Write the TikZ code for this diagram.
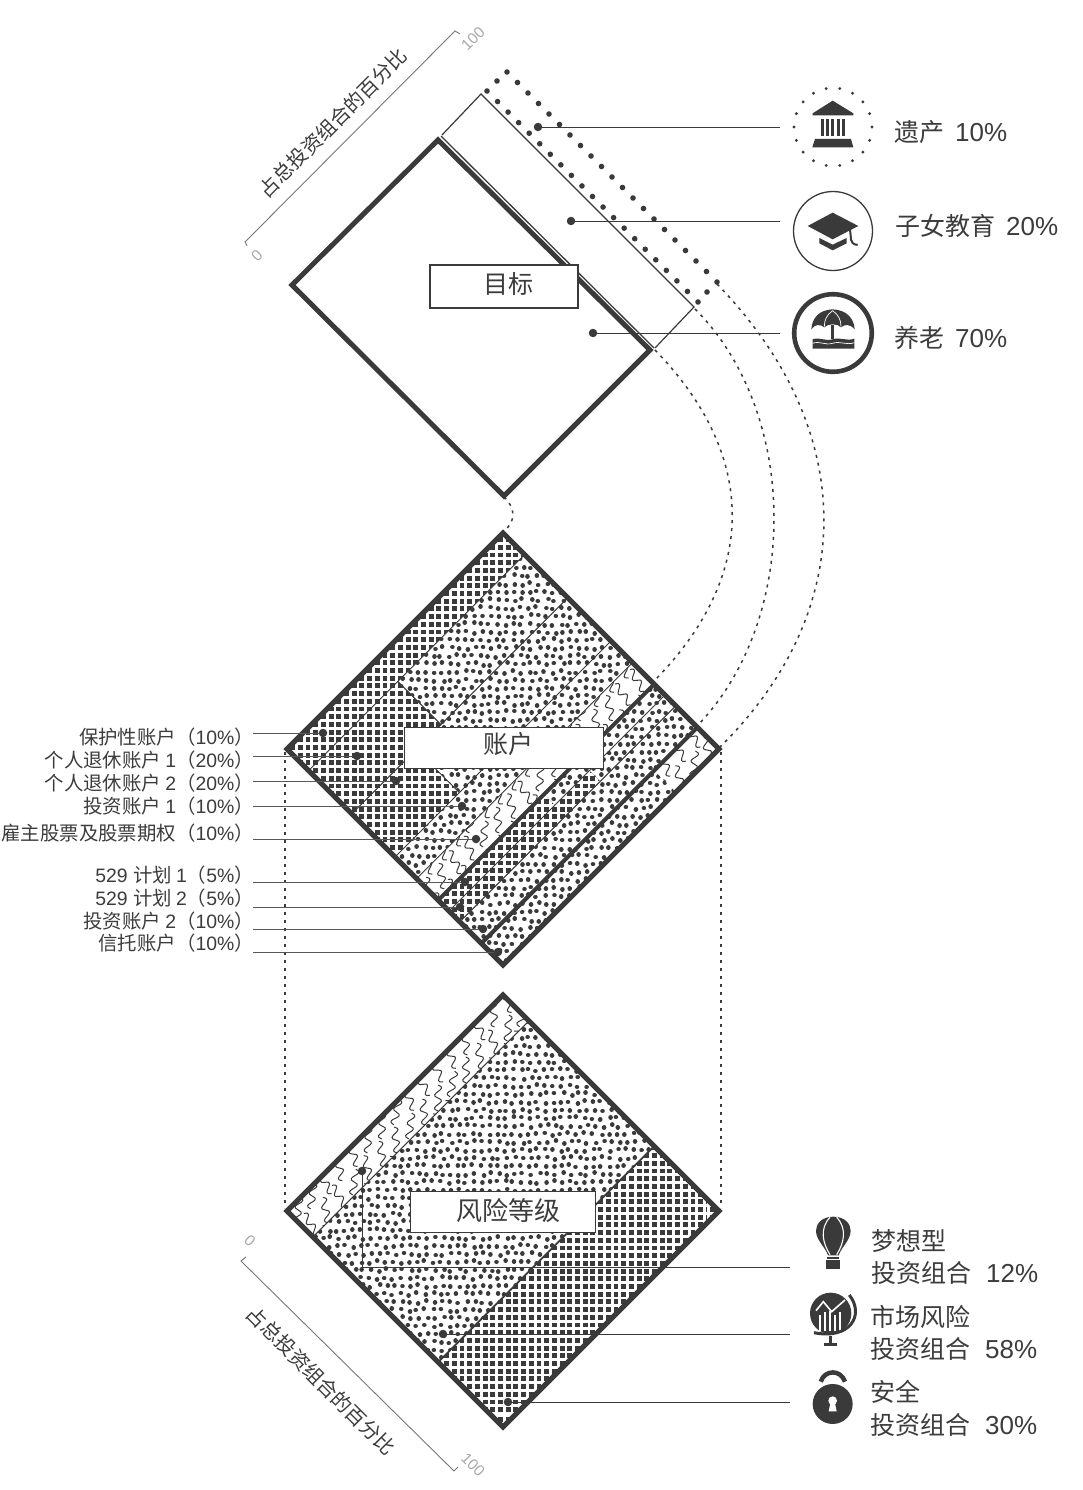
\documentclass[tikz,border=0pt]{standalone}
\usepackage{fontspec}
\setmainfont{Liberation Sans}
\newfontfamily\cjk{Noto Sans CJK SC}
\newcommand{\cj}[1]{{\cjk #1}}
\definecolor{ink}{HTML}{3A3A3A}
\definecolor{txt}{HTML}{3C3C3C}
\definecolor{scalegray}{HTML}{777777}
\definecolor{numgray}{HTML}{A8A8A8}
\pgfmathsetseed{7}
% pattern fillers (absolute px coordinates)
\newcommand{\crossfill}[4]{%
  \fill[ink] (#1,#2) rectangle (#3,#4);
  \foreach \gx in {#1,\the\numexpr#1+8\relax,...,#3}{\draw[white,line width=2.8pt] ({(\gx-#1)*.9625+#1},#2) -- ({(\gx-#1)*.9625+#1},#4);}
  \foreach \gy in {#2,\the\numexpr#2+8\relax,...,#4}{\draw[white,line width=2.8pt] (#1,{(\gy-#2)*.9625+#2}) -- (#3,{(\gy-#2)*.9625+#2});}
  \foreach \gx in {#3,\the\numexpr#3+8\relax,...,\the\numexpr#3+24\relax}{\draw[white,line width=2.8pt] ({(\gx-#1)*.9625+#1},#2) -- ({(\gx-#1)*.9625+#1},#4);}
  \foreach \gy in {#4,\the\numexpr#4+8\relax,...,\the\numexpr#4+24\relax}{\draw[white,line width=2.8pt] (#1,{(\gy-#2)*.9625+#2}) -- (#3,{(\gy-#2)*.9625+#2});}
}
\newcommand{\dotsfill}[4]{%
  \foreach \dx in {#1,\the\numexpr#1+8\relax,...,#3}{%
    \draw[ink,line cap=round,line width=4.6pt]
    \foreach \dy in {#2,\the\numexpr#2+8\relax,...,#4}{%
      ({\dx+mod(\dy-#2,16)*0.25+rand*1.6},{\dy+rand*1.6}) -- ++(.02,0)
    };
  }%
}
\newcommand{\wavyfill}[4]{%
  \foreach \wx in {#1,\the\numexpr#1+14\relax,...,#3}{%
    \foreach \wy in {#2,\the\numexpr#2+28\relax,...,#4}{%
      \pgfmathsetmacro{\wr}{12+rand*25}
      \pgfmathsetmacro{\wo}{mod((\wx-#1)/14,2)*14}
      \draw[ink,line width=1pt,shift={(\wx,\wy+\wo)},rotate=\wr]
        (0,-15) .. controls (12,-11) and (-12,-6) .. (0,-2)
        .. controls (12,2) and (-12,7) .. (0,11);
    }}%
}
\tikzset{
  x=1pt,y=-1pt,
  acct/.style={shift={(287,749)},x={(216pt,-216pt)},y={(216pt,216pt)}},
  risk/.style={shift={(287,1211)},x={(216pt,-216pt)},y={(216pt,216pt)}},
  heavy/.style={draw=ink,line width=5pt,line join=miter},
  divider/.style={draw=ink,line width=4pt},
  thinline/.style={draw=ink,line width=1pt},
  leader/.style={draw=ink,line width=.9pt},
  pin/.style={fill=ink,circle,inner sep=0pt,minimum size=8.5pt},
  dotted curve/.style={draw=ink,line width=1.5pt,dash pattern=on 3pt off 5pt},
  labelbox/.style={draw=ink,fill=white,line width=1.8pt,inner sep=0pt,text=txt,font=\cjk\fontsize{25}{25}\selectfont},
  leftlabel/.style={anchor=east,text=txt,inner sep=0pt,font=\fontsize{19.4}{19.4}\selectfont},
  rightlabel/.style={anchor=west,text=txt,inner sep=0pt,font=\fontsize{25}{25}\selectfont},
  scalelabel/.style={text=txt,inner sep=0pt,font=\cjk\fontsize{20}{20}\selectfont},
  numlabel/.style={text=numgray,inner sep=0pt,font=\fontsize{15.5}{15.5}\selectfont},
  scalebar/.style={draw=scalegray,line width=.9pt},
}
\newcommand{\nm}[1]{\hspace{11pt}{\fontsize{26}{26}\selectfont #1}}
\newcommand{\nb}[1]{\hspace{15pt}{\fontsize{26}{26}\selectfont #1}}
\begin{document}
\begin{tikzpicture}
\useasboundingbox (0,0) rectangle (1082,1490);
\fill[white] (0,0) rectangle (1082,1490);

% ---------- dotted connectors
\coordinate (goalB) at (504,497); \coordinate (acctT) at (503,532);
\draw[dotted curve] (goalB) .. controls (516,508) and (516,522) .. (acctT);
\coordinate (c1a) at (655,350); \coordinate (c1b) at (655,680);
\draw[dotted curve] (c1a) .. controls (758,456) and (758,575) .. (c1b);
\coordinate (c2a) at (695,309); \coordinate (c2b) at (697,726);
\draw[dotted curve] (c2a) .. controls (800,414) and (800,620) .. (c2b);
\coordinate (c3a) at (717,284); \coordinate (c3b) at (720,747);
\draw[dotted curve] (c3a) .. controls (859,430) and (859,610) .. (c3b);
\coordinate (vl1) at (285,752); \coordinate (vl2) at (285,1208);
\draw[dotted curve,line width=1.2pt] (vl1) -- (vl2);
\coordinate (vr1) at (721,752); \coordinate (vr2) at (721,1208);
\draw[dotted curve,line width=1.2pt] (vr1) -- (vr2);

% ---------- goal diamond
\draw[heavy,fill=white] (438,140) -- (292,285) -- (504,496) -- (650,350) -- cycle;
\coordinate (d1) at (441,136); \coordinate (d2) at (654,348);
\draw[thinline,line width=1.3pt] (d1) -- (d2);
\draw[draw=ink,line width=1.2pt] (442,135) -- (481,94) -- (694,307) -- (655,348);
% dotted frame
\foreach \k in {0,...,20}{
  \fill[ink] ({507+\k*10.5},{72+\k*10.5}) circle[radius=2.8pt];
  \fill[ink] ({487+\k*10.55},{91+\k*10.55}) circle[radius=2.8pt];
}
\fill[ink] (497,81) circle[radius=2.8pt];
\fill[ink] (707,292) circle[radius=2.8pt];
\node[labelbox,minimum width=148pt,minimum height=43pt,anchor=north west] (goalbox) at (429,264) {\raisebox{6pt}{\hspace*{10pt}目标}};

% goal leaders
\node[pin] (g1) at (538,127) {}; \coordinate (g1e) at (780,127); \draw[leader] (g1) -- (g1e);
\node[pin] (g2) at (571,221) {}; \coordinate (g2e) at (780,221); \draw[leader] (g2) -- (g2e);
\node[pin] (g3) at (593,333) {}; \coordinate (g3e) at (780,333); \draw[leader] (g3) -- (g3e);

% ---------- accounts diamond
\begin{scope}
 \clip[acct] (0,0) -- (1,0) -- (1,1) -- (0,1) -- cycle;
 \fill[white] (280,525) rectangle (725,970);
 \begin{scope}
  \clip[acct] (0,0) -- (.1,0) -- (.1,1) -- (0,1) -- cycle
       (.1,0) -- (.3,0) -- (.3,.413) -- (.1,.413) -- cycle
       (.3,0) -- (.5,0) -- (.5,.298) -- (.3,.298) -- cycle
       (.7,0) -- (.75,0) -- (.75,.49) -- (.7,.49) -- cycle
       (.75,0) -- (.8,0) -- (.8,.65) -- (.75,.65) -- cycle;
  \crossfill{281}{528}{725}{968}
 \end{scope}
 \begin{scope}
  \clip[acct] (.1,.413) -- (.3,.413) -- (.3,1) -- (.1,1) -- cycle
       (.3,.298) -- (.5,.298) -- (.5,1) -- (.3,1) -- cycle
       (.5,0) -- (.6,0) -- (.6,1) -- (.5,1) -- cycle
       (.7,.49) -- (.75,.49) -- (.75,1) -- (.7,1) -- cycle
       (.75,.65) -- (.8,.65) -- (.8,1) -- (.75,1) -- cycle
       (.8,0) -- (.9,0) -- (.9,1) -- (.8,1) -- cycle
       (.9,0) -- (1,0) -- (1,.8) -- (.9,.8) -- cycle;
  \dotsfill{281}{528}{725}{968}
 \end{scope}
 \begin{scope}
  \clip[acct] (.6,0) -- (.7,0) -- (.7,1) -- (.6,1) -- cycle
       (.9,.8) -- (1,.8) -- (1,1) -- (.9,1) -- cycle;
  \wavyfill{400}{640}{725}{968}
 \end{scope}
 \foreach \t in {.1,.3,.5,.6,.75,.8}{\draw[thinline,acct] (\t,0) -- (\t,1);}
 \draw[thinline,acct] (.1,.413) -- (.3,.413);
 \draw[thinline,acct] (.3,.298) -- (.5,.298);
\end{scope}
\draw[divider,acct] (.7,0) -- (.7,1);
\draw[divider,acct] (.9,0) -- (.9,1);
\draw[heavy,line width=5pt,acct] (0,0) -- (1,0) -- (1,1) -- (0,1) -- cycle;
\node[labelbox,minimum width=199pt,minimum height=41pt,anchor=north west,line width=1.2pt] (acctbox) at (404,727) {\raisebox{11pt}{\hspace*{8pt}账户}};

% left labels + leaders
\foreach \nmk/\ly/\lx/\ty/\txtv in {
  a1/733/323/737/{\cj{保护性账户（}10\%\cj{）}},
  a2/756/357/760/{\cj{个人退休账户 }1\cj{（}20\%\cj{）}},
  a3/781/396/783/{\cj{个人退休账户 }2\cj{（}20\%\cj{）}},
  a4/806/462/806/{\cj{投资账户 }1\cj{（}10\%\cj{）}},
  a5/839/476/833/{\cj{雇主股票及股票期权（}10\%\cj{）}},
  a6/882/465/875/{529 \cj{计划 }1\cj{（}5\%\cj{）}},
  a7/907/460/898/{529 \cj{计划 }2\cj{（}5\%\cj{）}},
  a8/929/483/921/{\cj{投资账户 }2\cj{（}10\%\cj{）}},
  a9/952/498/943/{\cj{信托账户（}10\%\cj{）}}}{
  \node[leftlabel] (t\nmk) at (254,\ty) {\txtv};
  \node[pin] (p\nmk) at (\lx,\ly) {};
  \coordinate (s\nmk) at (253,\ly);
  \draw[leader,draw=ink!85] (s\nmk) -- (p\nmk);
}

% ---------- risk diamond
\begin{scope}
 \clip[risk] (0,0) -- (1,0) -- (1,1) -- (0,1) -- cycle;
 \fill[white] (280,990) rectangle (725,1432);
 \begin{scope}
  \clip[risk] (0,0) -- (.12,0) -- (.12,1) -- (0,1) -- cycle;
  \wavyfill{270}{960}{540}{1240}
 \end{scope}
 \begin{scope}
  \clip[risk] (.12,0) -- (.7,0) -- (.7,1) -- (.12,1) -- cycle;
  \dotsfill{281}{990}{725}{1432}
 \end{scope}
 \begin{scope}
  \clip[risk] (.7,0) -- (1,0) -- (1,1) -- (.7,1) -- cycle;
  \crossfill{281}{990}{725}{1432}
 \end{scope}
 \draw[thinline,risk] (.12,0) -- (.12,1);
 \draw[thinline,line width=1.8pt,risk] (.7,0) -- (.7,1);
\end{scope}
\draw[heavy,risk] (0,0) -- (1,0) -- (1,1) -- (0,1) -- cycle;
\node[labelbox,minimum width=185pt,minimum height=41pt,anchor=north west,line width=1.2pt,font=\cjk\fontsize{26}{26}\selectfont] (riskbox) at (410,1191) {\raisebox{6pt}{\hspace*{10pt}风险等级}};

\node[pin] (r1) at (362,1171) {}; \coordinate (r1c) at (362,1267); \coordinate (r1e) at (790,1267);
\draw[leader] (r1) -- (r1c) -- (r1e);
\node[pin] (r2) at (443,1334) {}; \coordinate (r2e) at (790,1334); \draw[leader] (r2) -- (r2e);
\node[pin] (r3) at (508,1402) {}; \coordinate (r3e) at (790,1402); \draw[leader] (r3) -- (r3e);

% ---------- scale bars
\coordinate (sa1) at (247,246); \coordinate (sa2) at (245,242); \coordinate (sa3) at (455,31); \coordinate (sa4) at (460,34);
\draw[scalebar] (sa1) -- (sa2) -- (sa3) -- (sa4);
\node[scalelabel,rotate=45] (st1) at (333,123) {占总投资组合的百分比};
\node[numlabel,rotate=45] (st1a) at (257,256) {0};
\node[numlabel,rotate=45] (st1b) at (473,39) {100};

\coordinate (sb1) at (246,1257); \coordinate (sb2) at (241,1261); \coordinate (sb3) at (454,1471); \coordinate (sb4) at (458,1467);
\draw[scalebar] (sb1) -- (sb2) -- (sb3) -- (sb4);
\node[scalelabel,rotate=-45] (st2) at (321,1381) {占总投资组合的百分比};
\node[numlabel,rotate=-45] (st2a) at (250,1241) {0};
\node[numlabel,rotate=-45] (st2b) at (473,1465) {100};

% ---------- right labels
\node[rightlabel] (l1) at (894,132) {\cj{遗产}\nm{10\%}};
\node[rightlabel] (l2) at (895,226) {\cj{子女教育}\nm{20\%}};
\node[rightlabel] (l3) at (894,338) {\cj{养老}\nm{70\%}};
\node[rightlabel] (l4) at (871,1241) {\cj{梦想型}};
\node[rightlabel] (l5) at (871,1273) {\cj{投资组合}\nb{12\%}};
\node[rightlabel] (l6) at (870,1317) {\cj{市场风险}};
\node[rightlabel] (l7) at (870,1349) {\cj{投资组合}\nb{58\%}};
\node[rightlabel] (l8) at (870,1392) {\cj{安全}};
\node[rightlabel] (l9) at (870,1425) {\cj{投资组合}\nb{30\%}};

% ---------- icons: bank
\foreach \a in {0,20,...,340}{\fill[ink] ({833+39*cos(\a)},{127+39*sin(\a)}) circle[radius=1.6pt];}
\begin{scope}[shift={(770,70)},x=.3333pt,y=-.3333pt]
 \fill[ink] (188,92) -- (250,130) -- (250,136) -- (128,136) -- (128,130) -- cycle;
 \foreach \b in {152,168,184,200,216}{\fill[ink] (\b,146) rectangle (\b+9,198);}
 \fill[ink] (135,207) -- (243,207) -- (250,232) -- (127,232) -- cycle;
\end{scope}
% graduation cap
\draw[ink,line width=1.3pt] (833,231) circle[radius=39.5pt];
\begin{scope}[shift={(770,70)},x=.3333pt,y=-.3333pt]
 \fill[ink] (113,468) -- (188,428) -- (265,468) -- (188,508) -- cycle;
 \fill[ink] (148,504) -- (188,524) -- (230,504) -- (230,520) -- (188,541) -- (148,520) -- cycle;
 \draw[ink,line width=2pt] (240,478) .. controls (245,500) and (235,522) .. (263,525);
\end{scope}
% umbrella
\draw[ink,line width=4.6pt] (833,333) circle[radius=38.8pt];
\begin{scope}[shift={(770,70)},x=.3333pt,y=-.3333pt]
 \fill[ink] (188,718) .. controls (230,720) and (252,745) .. (254,778)
   .. controls (240,762) and (225,762) .. (213,772)
   .. controls (203,760) and (173,760) .. (163,772)
   .. controls (150,762) and (135,762) .. (124,778)
   .. controls (126,745) and (146,720) .. (188,718) -- cycle;
 \draw[white,line width=.7pt] (188,722) .. controls (170,735) and (163,750) .. (163,770);
 \draw[white,line width=.7pt] (188,722) .. controls (206,735) and (213,750) .. (213,770);
 \fill[ink] (184,765) rectangle (192,808);
 \fill[ink] (128,808) .. controls (150,800) and (165,815) .. (188,808) .. controls (210,800) and (230,815) .. (253,806)
   -- (253,836) -- (128,836) -- cycle;
 \draw[white,line width=.7pt] (128,820) .. controls (150,812) and (165,827) .. (188,820) .. controls (210,812) and (230,827) .. (253,818);
\end{scope}
% balloon
\begin{scope}[shift={(790,1200)},x=.3333pt,y=-.3333pt]
 \fill[ink] (130,50) .. controls (165,50) and (182,72) .. (182,92)
   .. controls (182,120) and (155,140) .. (146,166) -- (114,166)
   .. controls (105,140) and (78,120) .. (78,92)
   .. controls (78,72) and (95,50) .. (130,50) -- cycle;
 \draw[white,line width=1.1pt] (120,52) .. controls (88,85) and (98,130) .. (120,164);
 \draw[white,line width=1.1pt] (140,52) .. controls (172,85) and (162,130) .. (140,164);
 \fill[ink] (112,170) rectangle (148,176);
 \fill[ink] (109,181) rectangle (151,207);
\end{scope}
% globe
\begin{scope}[shift={(790,1200)},x=.3333pt,y=-.3333pt]
 \fill[ink] (122,340) circle[radius=62];
 \foreach \b/\h in {90/345,105/335,120/332,135/345,150/335}{\draw[white,line width=1.5pt] (\b,392) -- (\b,\h);}
 \draw[white,line width=1.6pt] (78,332) -- (100,305) -- (125,335) -- (165,300);
 \draw[ink,line width=3pt] (178,285) .. controls (225,345) and (180,420) .. (72,398);
 \fill[ink] (117,408) rectangle (126,432);
 \fill[ink] (102,430) rectangle (142,437);
\end{scope}
% lock
\begin{scope}[shift={(790,1200)},x=.3333pt,y=-.3333pt]
 \fill[ink] (128,612) circle[radius=60];
 \draw[ink,line width=4.5pt] (92,545) .. controls (105,508) and (152,508) .. (165,545);
 \fill[white] (128,602) circle[radius=13];
 \fill[white] (122,605) -- (134,605) -- (140,634) -- (116,634) -- cycle;
\end{scope}
\end{tikzpicture}
\end{document}
